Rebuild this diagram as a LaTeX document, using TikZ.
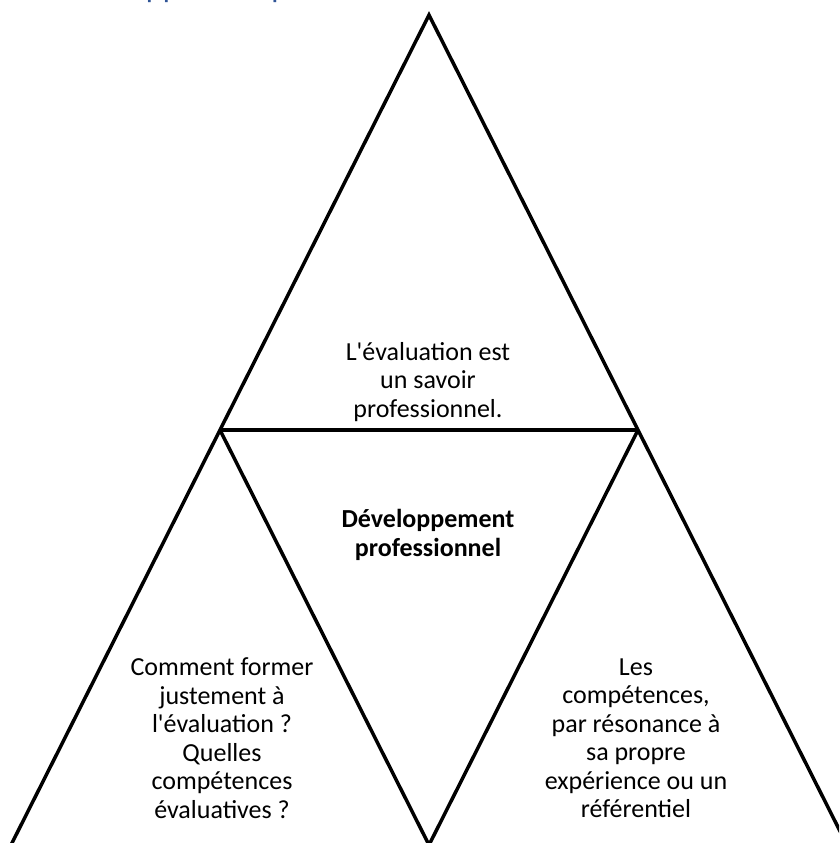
\documentclass[tikz,border=0pt]{standalone}
\usepackage{fontspec}
\setmainfont{Carlito}
\definecolor{headblue}{HTML}{2F5496}
\begin{document}
\begin{tikzpicture}[x=1pt,y=1pt,
  edge/.style={line width=3.5pt, line join=miter, draw=black},
  txt/.style={align=center, font=\fontsize{26}{28.5}\selectfont, inner sep=0pt},
  boldtxt/.style={txt, font=\fontsize{26}{28.5}\selectfont\bfseries}]
\useasboundingbox (0,0) rectangle (839,-843);
\clip (0,0) rectangle (839,-843);
% vertices
\coordinate (A) at (429,-15);
\coordinate (L) at (220,-430);
\coordinate (R) at (638,-430);
\coordinate (M) at (429,-845);
\coordinate (BL) at (11,-845);
\coordinate (BR) at (847,-845);
% clipped heading
\node[anchor=base west, text=headblue, font=\fontsize{32}{38}\selectfont, inner sep=0pt] (head) at (56,2) {Développement professionnel};
% triangles
\draw[edge] (BL) -- (L) -- (A) -- (R) -- (BR);
\draw[edge] (L) -- (R);
\draw[edge] (L) -- (M) -- (R);
% texts
\node[txt] (top) at (428,-382) {L\textquotesingle évaluation est\\un savoir\\professionnel.};
\node[boldtxt] (mid) at (428,-535) {Développement\\professionnel};
\node[txt] (left) at (222,-738) {Comment former\\justement à\\l\textquotesingle évaluation ?\\Quelles\\compétences\\évaluatives ?};
\node[txt] (right) at (636,-738) {Les\\compétences,\\par résonance à\\sa propre\\expérience ou un\\référentiel};
\end{tikzpicture}
\end{document}
